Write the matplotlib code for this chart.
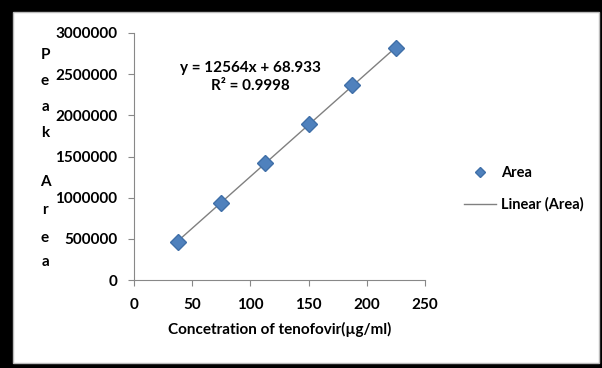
import numpy as np
import matplotlib.pyplot as plt
from matplotlib.patches import Rectangle

conc = [37.5, 75, 112.5, 150, 187.5, 225]
area = [461000, 938000, 1418000, 1893000, 2364000, 2816000]
slope, intercept = 12564, 68.933
y_label_letters = ["P", "e", "a", "k", "A", "r", "e", "a"]
y_label_rows = [55, 81, 107, 133, 182, 210, 238, 262]  # pixel rows from top

plt.rcParams["font.family"] = ["Lato", "DejaVu Sans"]
plt.rcParams["font.weight"] = "bold"

W, H = 602, 368
FS = 11
fig = plt.figure(figsize=(W / 100, H / 100), dpi=100)
fig.patch.set_facecolor("black")

# white panel inside the black frame
fig.patches.append(Rectangle((13 / W, 1 - 363 / H), (599 - 13) / W, (363 - 12) / H,
                             transform=fig.transFigure, facecolor="white",
                             edgecolor="#bbbbbb", linewidth=1, zorder=0))

ax = fig.add_axes([134 / W, 1 - 280 / H, (425 - 134) / W, (280 - 33) / H])
ax.set_zorder(2)
ax.set_facecolor("none")

fit_x = np.array([conc[0], conc[-1]])
fit_y = slope * fit_x + intercept
ax.plot(fit_x, fit_y, color="#808080", linewidth=1, label="Linear (Area)", zorder=2)
ax.plot(conc, area, linestyle="none", marker="D", markersize=8, color="#4F81BD",
        markeredgecolor="#3F6FA8", label="Area", zorder=3)

ax.set_xlim(0, 250)
ax.set_ylim(0, 3000000)
ax.set_xticks(range(0, 251, 50))
ax.set_yticks(range(0, 3000001, 500000))
ax.set_yticklabels([str(v) for v in range(0, 3000001, 500000)])
for s in ["top", "right"]:
    ax.spines[s].set_visible(False)
for s in ["left", "bottom"]:
    ax.spines[s].set_color("#888888")
ax.tick_params(direction="out", length=4, color="#888888", labelsize=FS,
               labelcolor="black", pad=8)
ax.tick_params(axis="x", pad=9)
for lab in ax.get_xticklabels() + ax.get_yticklabels():
    lab.set_fontweight("bold")

ax.set_xlabel("Concetration of tenofovir(µg/ml)", fontsize=FS, fontweight="bold", labelpad=7)

for ch, row in zip(y_label_letters, y_label_rows):
    fig.text(45 / W, 1 - row / H, ch, fontsize=FS, fontweight="bold",
             ha="center", va="center")

fig.text(250 / W, 1 - 68 / H, "y = 12564x + 68.933", fontsize=FS,
         fontweight="bold", ha="center", va="center")
fig.text(250 / W, 1 - 86 / H, "R² = 0.9998", fontsize=FS,
         fontweight="bold", ha="center", va="center")

handles, labels = ax.get_legend_handles_labels()
fig.legend(handles[::-1], labels[::-1], loc="center left",
           bbox_to_anchor=(451 / W, 1 - 189 / H), frameon=False,
           prop={"size": 10.5, "weight": "bold"}, handlelength=2.2,
           labelspacing=1.2, handletextpad=0.35, markerscale=0.6)

fig.savefig("out.png", dpi=100, facecolor=fig.get_facecolor())
